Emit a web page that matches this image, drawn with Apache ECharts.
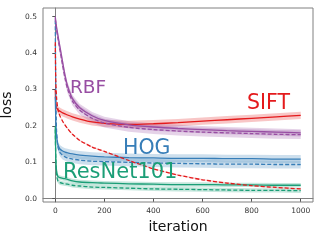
<!DOCTYPE html>
<html><head><meta charset="utf-8">
<script src="https://cdn.jsdelivr.net/npm/echarts@6/dist/echarts.min.js"></script>
<style>html,body{margin:0;padding:0;background:#fff}#c{width:320px;height:240px}</style>
</head><body><div id="c"></div>
<script>
const iterations = [0,2,5,10,15,20,30,40,50,70,100,150,200,300,400,500,600,700,800,900,1000];
const rbfSolid   = [0.500,0.488,0.472,0.452,0.432,0.414,0.375,0.338,0.310,0.275,0.250,0.228,0.215,0.203,0.197,0.193,0.190,0.187,0.185,0.183,0.181];
const rbfDashed  = [0.495,0.482,0.465,0.444,0.424,0.405,0.366,0.330,0.302,0.268,0.243,0.221,0.208,0.196,0.190,0.186,0.183,0.181,0.179,0.177,0.176];
const siftSolid  = [0.300,0.262,0.250,0.245,0.242,0.240,0.236,0.233,0.230,0.225,0.219,0.211,0.207,0.204,0.206,0.209,0.213,0.217,0.221,0.225,0.229];
const siftDashed = [0.430,0.330,0.280,0.248,0.235,0.226,0.213,0.202,0.193,0.177,0.160,0.142,0.130,0.105,0.082,0.065,0.052,0.043,0.036,0.031,0.027];
const hogSolid   = [0.280,0.220,0.175,0.150,0.141,0.136,0.131,0.128,0.126,0.123,0.120,0.117,0.115,0.113,0.112,0.111,0.111,0.110,0.110,0.109,0.109];
const hogDashed  = [0.490,0.300,0.190,0.145,0.133,0.126,0.119,0.115,0.112,0.109,0.106,0.103,0.102,0.100,0.098,0.097,0.096,0.095,0.095,0.094,0.094];
const resSolid   = [0.200,0.120,0.078,0.062,0.059,0.058,0.056,0.055,0.053,0.049,0.046,0.044,0.043,0.041,0.040,0.039,0.039,0.038,0.038,0.037,0.037];
const resDashed  = [0.190,0.110,0.066,0.050,0.046,0.044,0.042,0.041,0.040,0.037,0.035,0.032,0.031,0.029,0.027,0.026,0.025,0.024,0.023,0.023,0.022];
const rbfSpread  = [0.010, 0.012];
const siftSpread = [0.010, 0.002];
const hogSpread  = [0.011, 0.011];
const resSpread  = [0.006, 0.006];
const xTicks = [0,200,400,600,800,1000];
const yTicks = [0,0.1,0.2,0.3,0.4,0.5];
const labelNames = ['RBF','SIFT','HOG','ResNet101'];

const RED='#e41a1c', PURPLE='#984ea3', BLUE='#377eb8', GREEN='#1b9e77';
const pairs = ys => iterations.map((x,i)=>[x,ys[i]]);
function band(ys, s, color, op){
  return {type:'custom', silent:true, clip:true, z:1, data:[[0,0]],
    renderItem:(params, api)=>{
      const pts=[];
      for(let i=0;i<iterations.length;i++) pts.push(api.coord([iterations[i], ys[i]+s]));
      for(let i=iterations.length-1;i>=0;i--) pts.push(api.coord([iterations[i], ys[i]-s]));
      return {type:'polygon', shape:{points:pts, smooth:0}, style:{fill:color, opacity:op}};
    }};
}
function line(ys, color, dashed){
  return {type:'line', data:pairs(ys), showSymbol:false, smooth:0.25, z:3, silent:true,
    lineStyle:{color, width:1.3, type: dashed ? [4,2] : 'solid'}};
}
const chart = echarts.init(document.getElementById('c'), null, {renderer:'canvas'});
chart.setOption({
  animation:false,
  grid:{left:43, top:8, right:7, bottom:38, show:true, borderColor:'#808080', borderWidth:1, containLabel:false, outerBoundsMode:'none'},
  xAxis:{type:'value', min:-50, max:1050, name:'iteration', nameLocation:'middle', nameGap:17,
    nameTextStyle:{fontFamily:'DejaVu Sans', fontSize:14, color:'#111'},
    axisLine:{show:true, lineStyle:{color:'#808080'}},
    axisTick:{show:true, inside:false, length:3, lineStyle:{color:'#555'}, customValues:xTicks},
    axisLabel:{fontFamily:'DejaVu Sans', fontSize:7.5, color:'#333', margin:5, customValues:xTicks,
      formatter:v=>String(v)},
    splitLine:{show:false}},
  yAxis:{type:'value', min:-0.009, max:0.524, name:'loss', nameLocation:'middle', nameGap:20, nameRotate:90,
    nameTextStyle:{fontFamily:'DejaVu Sans', fontSize:14, color:'#111'},
    axisLine:{show:true, lineStyle:{color:'#808080'}},
    axisTick:{show:true, inside:false, length:3, lineStyle:{color:'#555'}, customValues:yTicks},
    axisLabel:{fontFamily:'DejaVu Sans', fontSize:7.5, color:'#333', margin:6, customValues:yTicks,
      formatter:v=>v.toFixed(1)},
    splitLine:{show:false}},
  series:[
    band(siftSolid, siftSpread[0], RED, 0.25), band(siftDashed, siftSpread[1], RED, 0.2),
    band(rbfSolid, rbfSpread[0], PURPLE, 0.25), band(rbfDashed, rbfSpread[1], PURPLE, 0.25),
    band(hogSolid, hogSpread[0], BLUE, 0.25), band(hogDashed, hogSpread[1], BLUE, 0.25),
    band(resSolid, resSpread[0], GREEN, 0.25), band(resDashed, resSpread[1], GREEN, 0.25),
    line(siftSolid, RED, false), line(rbfSolid, PURPLE, false), line(hogSolid, BLUE, false), line(resSolid, GREEN, false),
    line(hogDashed, BLUE, true), line(resDashed, GREEN, true), line(rbfDashed, PURPLE, true), line(siftDashed, RED, true)
  ],
  graphic:[
    {type:'text', x:70, y:88, z:10, style:{text:labelNames[0], fill:PURPLE, font:'18.5px "DejaVu Sans"', verticalAlign:'middle'}},
    {type:'text', x:247, y:104, z:10, style:{text:labelNames[1], fill:RED, font:'20.5px "DejaVu Sans"', verticalAlign:'middle'}},
    {type:'text', x:123, y:149, z:10, style:{text:labelNames[2], fill:BLUE, font:'20.5px "DejaVu Sans"', verticalAlign:'middle'}},
    {type:'text', x:63, y:173, z:10, style:{text:labelNames[3], fill:GREEN, font:'21px "DejaVu Sans"', verticalAlign:'middle'}}
  ]
});
</script></body></html>
